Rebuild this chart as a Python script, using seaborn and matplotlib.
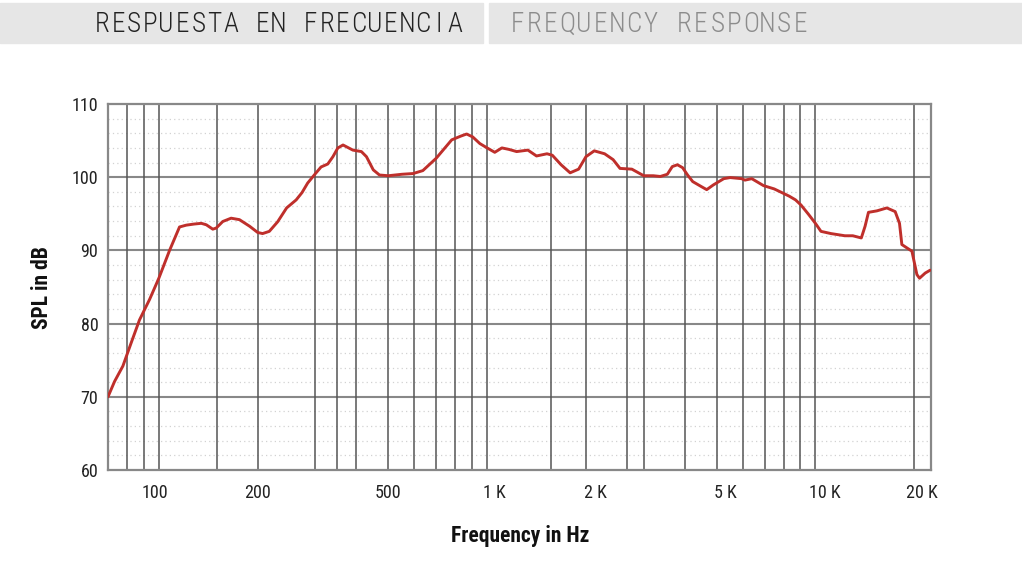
import pandas as pd
import seaborn as sns
import matplotlib.pyplot as plt
from matplotlib import font_manager as fm
from matplotlib.patches import Rectangle
from matplotlib.ticker import NullLocator
from matplotlib.transforms import ScaledTranslation

# frequency response (Hz, dB SPL)
freq = [70, 73.3, 77.7, 82.4, 87.3, 93.7, 100, 107.8, 115.6, 121.2, 128, 134.7, 139.5, 146,
        149.5, 156.6, 166, 176, 189, 200, 207, 217, 230, 245, 262, 273, 284, 300, 312, 327,
        339, 351, 364, 390, 414, 429, 450, 470, 500, 550, 595, 637, 700, 780, 830,
        866, 904, 950, 1000, 1055, 1109, 1165, 1230, 1331, 1414, 1522, 1580, 1680,
        1790, 1900, 2000, 2120, 2280, 2420, 2540, 2760, 3000, 3207, 3370, 3540, 3665,
        3800, 3940, 4080, 4230, 4500, 4666, 4890, 5260, 5500, 5960, 6100, 6400, 6950,
        7490, 7860, 8330, 8700, 9040, 9540, 10000, 10400, 11150, 12300, 13000, 13800,
        14170, 14510, 15390, 16510, 17500, 18040, 18340, 19210, 19680, 20380, 20760,
        21600, 22370]
spl = [70.0, 72.1, 74.2, 77.4, 80.5, 83.3, 86.2, 90.0, 93.2, 93.45, 93.6, 93.7, 93.5, 92.9,
       93.05, 93.95, 94.4, 94.2, 93.3, 92.45, 92.3, 92.6, 93.9, 95.8, 96.9, 97.9, 99.2, 100.5,
       101.4, 101.8,
       102.8, 104.0, 104.4, 103.7, 103.5, 102.8, 101.0, 100.3, 100.2, 100.4, 100.5, 100.9, 102.6,
       105.1, 105.6,
       105.9, 105.5, 104.6, 104.0, 103.4, 104.0, 103.8, 103.5, 103.7, 102.9, 103.2, 103.0, 101.7,
       100.6, 101.1, 102.8, 103.6, 103.2, 102.4, 101.2, 101.1, 100.2, 100.2, 100.1, 100.4, 101.45,
       101.7, 101.3, 100.3, 99.4, 98.7, 98.3, 98.95, 99.8, 99.95, 99.8, 99.6, 99.8, 98.85,
       98.4, 97.95, 97.4, 96.9, 96.2, 94.9, 93.7, 92.6, 92.3, 92.0, 92.0, 91.7,
       93.3, 95.2, 95.4, 95.8, 95.3, 93.7, 90.8, 90.2, 89.9, 86.7, 86.2,
       86.9, 87.3]

grid_freqs = [80, 90, 100, 150, 200, 300, 350, 400, 500, 600, 700, 800, 900, 1000,
              1570, 2000, 2660, 3000, 4000, 5000, 6000, 7000, 8000, 9000, 10000, 20000]
tick_freqs = [100, 200, 500, 1000, 2000, 5000, 10000, 20000]
tick_labels = ['100', '200', '500', '1 K', '2 K', '5 K', '10 K', '20 K']
y_ticks = [60, 70, 80, 90, 100, 110]
title_es = 'RESPUESTA EN FRECUENCIA'
title_en = 'FREQUENCY RESPONSE'


def narrow_font():
    # look for a condensed face, the reference uses one
    for fam in ['Liberation Sans Narrow', 'Roboto Condensed', 'Open Sans Condensed']:
        try:
            fm.findfont(fm.FontProperties(family=fam), fallback_to_default=False)
            return fam, 'normal', True
        except ValueError:
            pass
    path = fm.findfont(fm.FontProperties(family='DejaVu Sans', stretch='condensed'))
    if 'Condensed' in path:
        return 'DejaVu Sans', 'condensed', True
    return 'Liberation Sans', 'normal', False


sns.set_theme(style='white')
fam, stretch, is_narrow = narrow_font()
plt.rcParams['font.family'] = [fam, 'DejaVu Sans']
plt.rcParams['font.stretch'] = stretch

W, H = 1022, 576
fig = plt.figure(figsize=(W / 100, H / 100), dpi=100)
ax = fig.add_axes([108 / W, 1 - 470 / H, (931 - 108) / W, (470 - 104) / H])

data = pd.DataFrame({'freq': freq, 'spl': spl})
sns.lineplot(data=data, x='freq', y='spl', ax=ax, color='#bf2f2b', lw=2.1,
             sort=False, estimator=None, zorder=5)
ax.lines[0].set_solid_joinstyle('round')
ax.lines[0].set_solid_capstyle('round')

ax.set_xscale('log')
ax.set_xlim(70, 22500)
ax.set_ylim(60, 110)

# grid
for y in range(62, 110, 2):
    if y % 10:
        ax.axhline(y, color='#d2d2d2', lw=0.9, ls=(0, (1, 2.5)), zorder=0)
for y in [70, 80, 90, 100]:
    ax.axhline(y, color='#888888', lw=1.5, zorder=1)
for f in grid_freqs:
    ax.axvline(f, color='#555555', lw=1.1, zorder=2)

for s in ax.spines.values():
    s.set_color('#888888')
    s.set_linewidth(1.6)

tick_size = 13 if is_narrow else 12
ax.set_xticks(tick_freqs, tick_labels)
ax.xaxis.set_minor_locator(NullLocator())
ax.set_yticks(y_ticks)
ax.tick_params(axis='x', length=0, pad=10, labelsize=tick_size, labelcolor='#222222')
ax.tick_params(axis='y', length=0, pad=7, labelsize=tick_size, labelcolor='#222222')
offsets = [-4, 0, 0, 7, 9, 9, 9, 8]
for lab, dx in zip(ax.get_xticklabels(), offsets):
    lab.set_transform(lab.get_transform() + ScaledTranslation(dx / 100, 0, fig.dpi_scale_trans))
ax.set_xlabel('')
ax.set_ylabel('')

label_size = 15.5 if is_narrow else 13.5
fig.text(520 / W, 1 - 536 / H, 'Frequency in Hz', ha='center', va='center',
         fontsize=label_size, fontweight='heavy', color='#111111')
fig.text(42 / W, 1 - 288 / H, 'SPL in dB', ha='center', va='center', rotation=90,
         fontsize=label_size, fontweight='heavy', color='#111111')

# header boxes
fig.add_artist(Rectangle((0, 1 - 43.3 / H), 483 / W, 40.6 / H,
                         transform=fig.transFigure, color='#e6e6e6', zorder=0))
fig.add_artist(Rectangle((489 / W, 1 - 43.3 / H), (W - 489) / W, 40.6 / H,
                         transform=fig.transFigure, color='#e6e6e6', zorder=0))
head_size = 19.5 if is_narrow else 14
for i, ch in enumerate(title_es):
    fig.text((102 + i * 16.05) / W, 1 - 24.5 / H, ch, ha='center', va='center',
             fontsize=head_size, fontweight='light', color='#222222')
for i, ch in enumerate(title_en):
    fig.text((517 + i * 16.7) / W, 1 - 24.5 / H, ch, ha='center', va='center',
             fontsize=head_size, fontweight='light', color='#8c8c8c')

fig.savefig('out.png', dpi=100)
